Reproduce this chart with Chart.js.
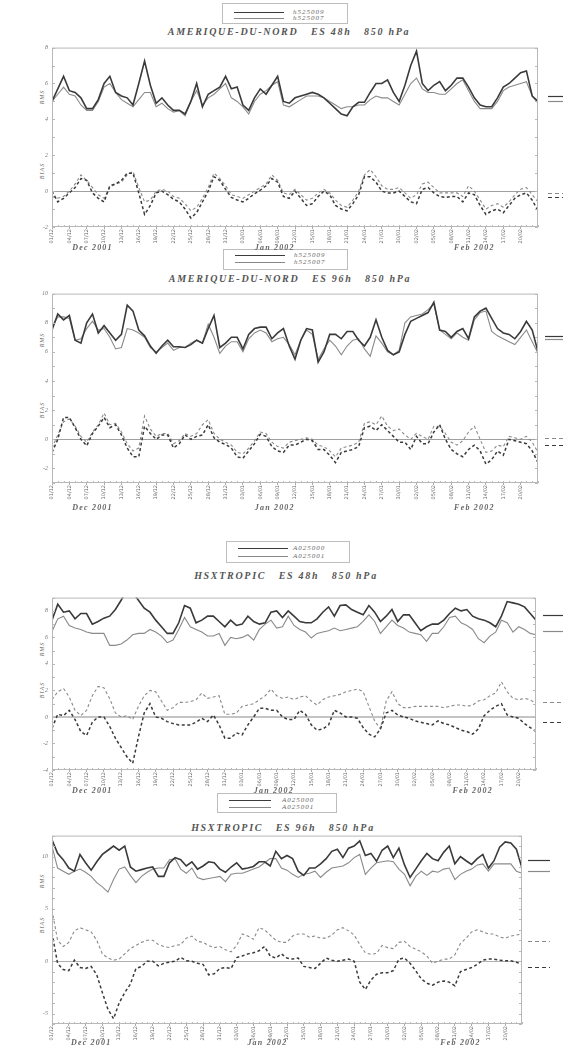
<!DOCTYPE html>
<html><head><meta charset="utf-8">
<script src="https://cdn.jsdelivr.net/npm/chart.js"></script>
<style>
html,body{margin:0;padding:0;background:#fff}
body{width:563px;height:1049px;position:relative;overflow:hidden;font-family:"Liberation Serif",serif}
canvas{position:absolute;left:0}
.t{position:absolute;transform:translate(-50%,-50%);font:italic bold 10px "Liberation Serif";letter-spacing:1.7px;color:#555;white-space:pre;line-height:10px}
.lg{position:absolute;border:1px solid #bdbdbd;box-sizing:border-box;background:transparent}
.lg .ln{position:absolute;height:0;border-top:1.4px solid #3c3c3c}
.lg .ln.l{border-top:1px solid #888}
.lg span{position:absolute;font:italic 7px "Liberation Serif";letter-spacing:1px;color:#666;line-height:7px;white-space:pre}
.ax{position:absolute;transform:translate(-50%,-50%) rotate(-90deg);font:italic 6px "Liberation Serif";letter-spacing:1px;color:#666;white-space:pre}
</style></head><body>

<div class="lg" style="left:222px;top:3px;width:126px;height:21px">
 <div class="ln" style="left:11px;top:8px;width:50px"></div><span style="left:70px;top:5px">h525009</span>
 <div class="ln l" style="left:11px;top:14px;width:50px"></div><span style="left:70px;top:11px">h525007</span>
</div>
<div class="t" style="left:289px;top:32px">AMERIQUE-DU-NORD   ES 48h   850 hPa</div>
<div class="ax" style="left:42px;top:97px">RMS</div>
<div class="ax" style="left:42px;top:171px">BIAS</div>

<div class="lg" style="left:223px;top:249px;width:125px;height:21px">
 <div class="ln" style="left:11px;top:5px;width:50px"></div><span style="left:70px;top:2px">h525009</span>
 <div class="ln l" style="left:11px;top:12px;width:50px"></div><span style="left:70px;top:9px">h525007</span>
</div>
<div class="t" style="left:290px;top:279px">AMERIQUE-DU-NORD   ES 96h   850 hPa</div>
<div class="ax" style="left:42px;top:340px">RMS</div>
<div class="ax" style="left:42px;top:410px">BIAS</div>

<div class="lg" style="left:226px;top:541px;width:124px;height:22px">
 <div class="ln" style="left:11px;top:6px;width:50px"></div><span style="left:66px;top:3px">A025000</span>
 <div class="ln l" style="left:11px;top:14px;width:50px"></div><span style="left:66px;top:11px">A025001</span>
</div>
<div class="t" style="left:286px;top:576px">HSXTROPIC   ES 48h   850 hPa</div>
<div class="ax" style="left:42px;top:649px">RMS</div>
<div class="ax" style="left:42px;top:690px">BIAS</div>

<div class="lg" style="left:217px;top:793px;width:120px;height:20px">
 <div class="ln" style="left:11px;top:6px;width:42px"></div><span style="left:64px;top:3px">A025000</span>
 <div class="ln l" style="left:11px;top:13px;width:42px"></div><span style="left:64px;top:10px">A025001</span>
</div>
<div class="t" style="left:283px;top:828px">HSXTROPIC   ES 96h   850 hPa</div>
<div class="ax" style="left:42px;top:881px">RMS</div>
<div class="ax" style="left:42px;top:925px">BIAS</div>

<script>
// ---------- categories / ticks ----------
const days = Array.from({length: 85}, (_, i) => i); // day index from 1 Dec 2001
const tickDays = [0,3,6,9,12,15,18,21,24,27,30,33,36,39,42,45,48,51,54,57,60,63,66,69,72,75,78,81];
const tickLabels = ["01/12","04/12","07/12","10/12","13/12","16/12","19/12","22/12","25/12","28/12",
  "31/12","03/01","06/01","09/01","12/01","15/01","18/01","21/01","24/01","27/01",
  "30/01","02/02","05/02","08/02","11/02","14/02","17/02","20/02"];
const monthLabels = ["Dec 2001","Jan 2002","Feb 2002"];
const monthDays = [7, 38.5, 73];

// ---------- panel 1 : AMERIQUE-DU-NORD ES 48h ----------
const p1Rms1 = [5.0,5.7,6.4,5.6,5.5,5.2,4.6,4.6,5.1,6.0, 6.4,5.5,5.3,5.2,4.8,6.0,7.25,5.9,4.9,5.2,
  4.8,4.5,4.5,4.3,5.0,6.0,4.7,5.4,5.6,5.8, 6.4,5.7,5.8,4.8,4.5,5.2,5.7,5.4,5.9,6.4,
  5.0,4.9,5.2,5.3,5.4,5.5,5.4,5.2,4.9,4.6, 4.3,4.2,4.7,4.95,4.95,5.5,6.0,6.0,6.2,5.5,
  5.0,5.9,7.0,7.8,6.0,5.6,5.9,6.1,5.6,5.9, 6.3,6.3,5.8,5.2,4.8,4.7,4.7,5.2,5.8,6.0, 6.3,6.6,6.7,5.3,5.0];
const p1Rms2 = [5.0,5.4,5.8,5.4,5.3,4.8,4.5,4.5,5.0,5.8, 6.0,5.5,5.1,4.9,4.7,5.1,5.5,5.5,4.7,4.9,
  4.6,4.4,4.5,4.2,5.0,5.6,4.8,5.2,5.4,5.7, 6.0,5.2,5.0,4.7,4.3,5.0,5.4,5.6,5.9,6.1,
  4.8,4.7,4.9,5.1,5.3,5.3,5.3,5.2,5.0,4.8, 4.6,4.7,4.7,4.8,4.8,5.1,5.3,5.2,5.2,5.0,
  4.8,5.4,6.0,6.3,5.7,5.5,5.5,5.4,5.4,5.7, 6.0,6.2,5.6,5.0,4.6,4.6,4.6,5.0,5.6,5.8, 5.9,6.0,6.1,5.3,4.9];
const p1Bias1 = [0.0,-0.6,-0.4,-0.1,0.2,0.7,0.6,-0.1,-0.4,-0.6, 0.3,0.4,0.6,1.0,1.0,-0.1,-1.3,-0.8,-0.1,0.0,
  -0.2,-0.45,-0.6,-1.0,-1.5,-1.2,-0.6,0.0,0.8,0.6, 0.1,-0.35,-0.5,-0.6,-0.4,-0.15,0.05,0.3,0.7,0.5,
  -0.3,-0.4,0.0,-0.4,-0.8,-0.7,-0.3,0.0,-0.2,-0.8, -1.0,-1.1,-0.7,-0.2,0.8,0.8,0.5,0.0,-0.1,-0.1,
  0.0,-0.3,-0.6,-0.7,0.1,0.2,-0.1,-0.3,-0.35,-0.3, -0.3,-0.6,-0.1,-0.2,-0.8,-1.3,-1.1,-1.0,-1.2,-0.8, -0.4,-0.2,-0.1,-0.5,-1.1];
const p1Bias2 = [-0.3,-0.4,-0.3,0.0,0.4,0.9,0.6,0.2,-0.2,-0.4, 0.2,0.4,0.5,0.9,1.1,0.2,-0.6,-0.5,0.0,0.1,
  0.0,-0.3,-0.4,-0.7,-1.1,-0.9,-0.4,0.2,1.0,0.7, 0.3,-0.2,-0.3,-0.4,-0.2,0.0,0.2,0.4,0.9,0.6,
  -0.1,-0.2,0.1,-0.2,-0.5,-0.4,-0.1,0.1,-0.1,-0.5, -0.8,-0.9,-0.5,0.0,0.9,1.2,0.8,0.3,0.1,0.1,
  0.2,-0.1,-0.4,-0.2,0.4,0.5,0.2,-0.1,-0.1,-0.1, -0.1,-0.3,0.3,0.0,-0.5,-1.0,-0.8,-0.7,-0.9,-0.6, -0.2,0.1,0.2,-0.2,-0.6];
const p1Means = [5.3, 5.0, -0.3, -0.1];
const p1YTicks = [-2,0,2,4,6,8];

// ---------- panel 2 : AMERIQUE-DU-NORD ES 96h ----------
const p2Rms1 = [7.5,8.6,8.2,8.5,6.8,6.6,8.0,8.6,7.3,7.8, 7.3,6.8,7.2,9.2,8.8,7.5,7.1,6.4,5.9,6.4,
  6.8,6.35,6.35,6.3,6.5,6.8,6.6,7.6,8.5,6.3, 6.6,7.0,7.0,6.2,7.2,7.6,7.7,7.7,6.9,7.3,
  7.6,6.4,5.5,6.8,7.6,7.5,5.3,6.0,7.2,7.2, 6.9,7.4,7.4,6.8,6.4,7.0,8.2,7.0,6.1,5.8,
  6.0,7.2,8.1,8.3,8.5,8.7,9.4,7.5,7.4,7.0, 7.4,7.6,6.9,8.4,8.8,9.0,8.3,7.6,7.3,7.2, 6.9,7.4,8.1,7.5,6.0];
const p2Rms2 = [7.7,8.4,8.4,8.3,6.8,6.9,7.6,8.1,7.5,7.6, 7.0,6.2,6.3,7.6,7.5,7.3,7.0,6.3,6.0,6.3,
  6.6,6.1,6.3,6.3,6.6,6.8,6.6,7.9,7.0,5.9, 6.4,6.7,6.7,6.0,6.9,7.3,7.5,7.3,6.7,6.9,
  7.0,6.5,5.8,6.8,7.5,7.2,5.5,6.2,6.8,6.4, 5.8,6.4,6.8,6.9,6.2,5.7,7.1,6.6,6.0,5.8,
  6.1,8.0,8.4,8.5,8.6,8.9,9.3,7.5,7.2,6.9, 7.3,7.0,6.8,8.2,8.7,8.8,7.4,7.1,6.9,6.7, 6.5,7.0,7.5,6.7,5.9];
const p2Bias1 = [-0.9,0.0,1.5,1.5,0.8,0.0,-0.45,0.4,0.9,1.5, 0.8,1.0,0.3,-0.6,-1.2,-1.2,0.9,0.4,0.0,0.3,
  0.3,-0.6,-0.3,0.3,0.0,0.2,0.3,1.0,0.1,-0.2, -0.35,-0.6,-1.2,-1.3,-0.8,-0.3,0.35,0.2,-0.5,-0.8,
  -0.9,-0.4,-0.4,-0.2,0.0,-0.1,-0.7,-0.7,-1.1,-1.6, -0.9,-0.8,-0.7,-0.5,0.8,0.9,0.6,1.0,0.6,0.2,
  -0.2,-0.2,-0.7,0.2,-0.3,-0.3,0.5,1.0,0.0,-0.7, -1.0,-1.2,-0.7,-0.4,-0.8,-1.7,-1.4,-0.8,-1.1,0.0, -0.1,-0.2,-0.3,-0.8,-1.6];
const p2Bias2 = [-0.6,0.3,1.2,1.4,0.9,0.2,-0.2,0.5,1.0,1.8, 1.0,1.1,0.5,-0.3,-0.8,-0.6,1.6,0.7,0.2,0.4,
  0.4,-0.3,-0.1,0.4,0.2,0.4,1.0,1.35,0.4,0.0, -0.2,-0.4,-0.9,-1.0,-0.6,-0.1,0.5,0.4,-0.2,-0.5,
  -0.6,-0.2,-0.1,0.0,0.1,0.0,-0.4,-0.5,-0.8,-1.2, -0.6,-0.5,-0.4,-0.2,1.1,1.2,1.0,1.6,0.9,0.6,
  0.7,0.3,0.0,0.4,0.2,0.0,0.9,0.9,0.4,-0.2, -0.4,-0.1,0.5,0.9,0.0,-0.9,-0.8,-0.4,-0.5,0.2, 0.1,0.0,0.2,-0.2,-0.9];
const p2Means = [7.1, 6.9, -0.4, 0.1];
const p2YTicks = [-2,0,2,4,6,8,10];

// ---------- panel 3 : HSXTROPIC ES 48h ----------
const p3Rms1 = [7.3,8.5,7.9,8.0,7.4,7.8,7.8,7.0,7.2,7.45, 7.6,8.1,8.8,9.6,9.4,8.8,8.2,7.9,7.3,6.8,
  6.3,6.3,7.1,8.4,8.2,7.1,7.3,7.6,7.6,7.2, 6.8,7.3,6.9,7.0,7.6,7.2,7.0,7.1,7.9,8.0,
  7.5,8.0,7.6,7.2,7.1,7.1,7.4,7.9,8.3,7.6, 8.4,8.45,8.1,7.9,7.7,8.4,7.9,7.2,7.6,8.1,
  7.2,7.7,7.7,7.1,6.5,6.8,7.0,7.0,7.3,7.8, 8.2,8.0,8.1,7.6,7.4,7.3,7.1,6.8,7.6,8.7, 8.6,8.5,8.3,7.8,7.3];
const p3Rms2 = [6.45,7.4,7.6,6.9,6.7,6.6,6.4,6.3,6.3,6.3, 5.4,5.4,5.5,5.8,6.2,6.3,6.3,6.6,6.4,6.1,
  5.6,5.8,6.6,7.5,6.8,6.6,6.4,6.1,6.1,6.3, 5.4,6.0,5.9,6.0,6.2,5.8,6.6,7.0,7.3,6.7,
  6.8,7.6,6.9,6.6,6.4,5.95,6.3,6.4,6.5,6.7, 6.5,6.6,6.7,6.8,7.2,7.7,7.2,6.3,6.8,7.3,
  6.9,6.7,6.4,6.3,6.2,5.7,6.3,6.3,6.8,7.5, 7.6,7.1,6.9,6.6,5.9,5.6,6.1,6.4,7.3,7.1, 6.4,6.8,6.6,6.3,6.2];
const p3Bias1 = [-0.85,0.2,0.1,0.5,-0.2,-1.1,-1.4,-0.4,0.0,0.0, -0.7,-1.6,-2.3,-3.0,-3.5,-1.5,0.3,1.0,0.0,-0.1,
  -0.35,-0.5,-0.6,-0.6,-0.6,-0.4,-0.1,-0.35,0.15,-0.6, -1.6,-1.6,-1.2,-1.35,-0.6,0.0,0.65,0.65,0.5,0.5,
  0.0,-0.2,-0.2,0.5,0.2,-0.6,-1.0,-0.9,-0.6,0.5, 0.3,0.0,0.0,-0.1,-0.8,-1.3,-1.5,-0.9,0.3,0.5,
  0.15,0.0,-0.1,-0.3,-0.4,-0.5,-0.6,-0.3,-0.5,-0.6, -0.8,-1.0,-1.1,-1.3,-0.9,0.1,0.5,0.8,1.0,0.15, 0.0,-0.1,-0.5,-0.8,-1.1];
const p3Bias2 = [1.3,1.9,2.15,1.5,0.5,0.1,0.5,1.6,2.3,2.2, 1.4,0.3,0.0,0.1,-0.2,0.8,1.6,2.0,1.9,1.2,
  0.5,0.7,1.1,1.1,1.15,1.3,1.8,1.4,1.5,1.6, 0.2,0.2,0.3,0.8,0.9,1.0,1.3,1.6,2.1,1.6,
  1.4,1.5,1.3,1.5,1.6,1.2,0.9,1.3,1.5,1.6, 1.7,1.9,2.0,2.1,1.9,0.8,-0.3,-0.9,1.2,1.9,
  1.0,0.7,0.7,0.8,0.8,0.8,0.8,0.8,0.7,0.8, 0.9,0.9,0.8,0.9,1.2,1.3,1.6,1.8,2.65,1.9, 1.4,1.3,1.4,1.3,1.0];
const p3Means = [7.7, 6.5, -0.4, 1.1];
const p3YTicks = [-4,-2,0,2,4,6,8];

// ---------- panel 4 : HSXTROPIC ES 96h ----------
const p4Rms1 = [11.6,10.3,9.7,8.9,8.6,10.2,9.4,8.7,9.5,10.2, 10.6,11.0,10.6,11.0,9.0,8.6,8.75,8.9,9.0,8.1,
  8.1,9.4,9.9,9.7,9.1,9.5,8.8,9.1,9.5,9.4, 8.8,8.5,9.0,9.4,8.8,8.9,9.05,9.5,9.5,9.1,
  10.5,9.8,10.1,9.8,8.6,8.2,8.9,8.9,9.3,9.8, 10.5,10.7,9.9,10.8,11.0,11.5,10.1,10.3,9.55,10.6,
  11.0,9.9,10.8,9.2,8.0,8.8,9.6,10.3,9.8,9.6, 10.4,11.0,9.3,10.0,9.6,9.25,9.8,10.2,8.9,9.6, 10.9,11.4,11.3,10.7,8.9];
const p4Rms2 = [11.0,8.9,8.6,8.3,8.6,8.8,8.5,8.1,7.5,7.1, 6.6,7.8,8.8,9.0,8.2,7.5,8.1,8.5,8.8,8.9,
  8.9,9.7,9.8,8.8,8.4,8.9,8.0,7.8,7.9,8.0, 8.1,7.6,8.3,8.4,8.4,8.6,8.8,9.0,9.4,9.8,
  9.8,8.9,8.7,8.3,8.0,8.3,8.4,8.6,8.0,8.5, 8.9,9.0,9.1,9.4,9.9,10.2,8.3,8.9,9.4,9.5,
  9.6,9.5,8.8,8.3,7.2,8.1,8.6,8.2,8.6,8.5, 8.8,8.9,7.8,8.3,8.6,8.8,9.2,9.3,8.6,9.3, 9.3,9.3,9.3,8.6,8.4];
const p4Bias1 = [2.7,-0.2,-0.8,-0.9,0.1,-0.6,-0.7,-0.5,-1.3,-3.0, -4.6,-5.5,-4.0,-3.0,-2.2,-0.7,-0.5,0.0,0.0,-0.45,
  -0.2,-0.1,0.0,0.35,0.05,0.0,-0.2,-0.3,-1.3,-1.2, -0.7,-0.6,-0.7,0.35,0.5,0.7,0.8,1.0,1.4,0.5,
  0.3,0.7,0.3,0.2,0.3,-0.5,-0.6,-0.7,-0.2,0.3, 0.1,0.0,0.1,0.2,0.0,-2.0,-2.7,-1.8,-1.25,-1.1,
  -1.1,-0.9,0.2,0.3,-0.2,-0.9,-1.7,-2.1,-2.3,-2.0, -1.9,-2.0,-2.35,-1.0,-0.8,-0.6,-0.3,0.1,0.2,0.2, 0.1,0.05,0.05,-0.1,-0.3];
const p4Bias2 = [4.9,2.0,1.4,1.8,2.9,3.2,3.0,2.8,2.0,0.7, 0.3,0.1,0.2,0.7,1.2,1.5,1.8,2.0,2.0,1.6,
  1.4,1.3,1.5,1.6,2.2,2.4,1.9,1.8,1.5,1.3, 1.4,1.1,0.9,1.5,2.6,2.4,2.1,3.2,3.0,2.5,
  2.0,1.8,1.8,2.4,2.6,2.6,2.3,2.4,2.2,2.2, 2.5,3.0,3.2,2.9,2.5,1.6,0.8,0.65,0.75,1.5,
  1.3,1.2,1.8,1.9,1.4,1.15,0.9,0.5,-0.2,0.0, 0.2,0.2,0.6,1.7,2.2,2.8,3.0,2.8,2.6,2.6, 2.3,2.2,2.4,2.5,2.6];
const p4Means = [9.7, 8.6, -0.6, 1.9];
const p4YTicks = [-5,0,5,10];

// ---------- drawing ----------
const DARK = '#3a3a3a', LIGHT = '#8a8a8a';

const framePlugin = {
  id: 'frame',
  afterDraw(chart, args, o) {
    const {ctx, chartArea: a, scales: {x, y}} = chart;
    ctx.save();
    ctx.strokeStyle = '#b8b8b8'; ctx.lineWidth = 1;
    ctx.strokeRect(a.left + 0.5, a.top + 0.5, a.right - a.left - 1, a.bottom - a.top - 1);
    ctx.beginPath();
    for (let v = Math.ceil(y.min); v <= y.max; v += 1) {
      const py = Math.round(y.getPixelForValue(v)) + 0.5;
      ctx.moveTo(a.left, py); ctx.lineTo(a.left + 3, py);
      ctx.moveTo(a.right - 3, py); ctx.lineTo(a.right, py);
    }
    days.forEach(d => {
      const px = Math.round(x.getPixelForValue(d)) + 0.5;
      ctx.moveTo(px, a.bottom); ctx.lineTo(px, a.bottom - 2);
    });
    ctx.stroke();
    o.means.forEach((m, i) => {
      const py = Math.round(y.getPixelForValue(m)) + 0.5;
      ctx.beginPath();
      ctx.setLineDash(i >= 2 ? [4, 3] : []);
      ctx.strokeStyle = i % 2 ? LIGHT : DARK;
      ctx.lineWidth = 1.2;
      ctx.moveTo(a.right + o.mStart, py); ctx.lineTo(a.right + o.mEnd, py);
      ctx.stroke();
    });
    ctx.setLineDash([]);
    ctx.fillStyle = '#666';
    ctx.font = 'italic bold 8px "Liberation Serif"';
    ctx.textAlign = 'center'; ctx.textBaseline = 'middle';
    ctx.letterSpacing = '1.2px';
    monthLabels.forEach((t, i) => ctx.fillText(t, x.getPixelForValue(monthDays[i]), a.bottom + o.monthOff));
    ctx.restore();
  }
};

function ds(vals, color, width, dash) {
  return {data: vals.map((v, i) => ({x: days[i], y: v})), borderColor: color, borderWidth: width,
    borderDash: dash, pointRadius: 0, fill: false, tension: 0};
}

function makePanel(p) {
  const c = document.createElement('canvas');
  c.width = 563; c.height = p.height;
  c.style.top = p.top + 'px'; c.style.width = '563px'; c.style.height = p.height + 'px';
  document.body.appendChild(c);
  new Chart(c, {
    type: 'line',
    data: {datasets: [
      ds(p.rms1, DARK, 1.6, []),
      ds(p.rms2, LIGHT, 1.1, []),
      ds(p.bias1, DARK, 1.5, [3, 2.5]),
      ds(p.bias2, LIGHT, 1.1, [3, 2.5])
    ]},
    options: {
      responsive: false, animation: false, devicePixelRatio: 1,
      layout: {padding: {top: 7, left: 0, bottom: 0, right: 563 - p.right}},
      plugins: {legend: {display: false}, tooltip: {enabled: false},
        frame: {means: p.means, mStart: p.mStart, mEnd: p.mEnd, monthOff: p.monthOff}},
      scales: {
        x: {type: 'linear', min: 0, max: 84,
          afterBuildTicks: s => { s.ticks = tickDays.map(v => ({value: v})); },
          afterFit: s => { s.height = p.xH; },
          ticks: {autoSkip: false, maxRotation: 90, minRotation: 90, padding: 0,
            font: {size: 5, family: 'DejaVu Sans'}, color: '#6a6a6a',
            callback: (v, i) => tickLabels[i]},
          grid: {drawOnChartArea: false, tickLength: 2, color: '#aaa'},
          border: {display: false}},
        y: {min: p.yMin, max: p.yMax,
          afterBuildTicks: s => { s.ticks = p.yTicks.map(v => ({value: v})); },
          afterFit: s => { s.width = 52; },
          ticks: {padding: 4, font: {size: 6, style: 'italic', family: 'Liberation Serif'}, color: '#777'},
          grid: {drawTicks: false, lineWidth: p.zeroW,
            color: ctx => (ctx.tick && ctx.tick.value === 0) ? p.zeroC : 'rgba(0,0,0,0)'},
          border: {display: false}}
      }
    },
    plugins: [framePlugin]
  });
}

makePanel({top: 40, height: 230, xH: 43, right: 538, yMin: -2, yMax: 8, yTicks: p1YTicks,
  rms1: p1Rms1, rms2: p1Rms2, bias1: p1Bias1, bias2: p1Bias2, means: p1Means,
  mStart: 10, mEnd: 25, monthOff: 21, zeroC: '#a0a0a0', zeroW: 1});
makePanel({top: 286, height: 240, xH: 43, right: 538, yMin: -3, yMax: 10, yTicks: p2YTicks,
  rms1: p2Rms1, rms2: p2Rms2, bias1: p2Bias1, bias2: p2Bias2, means: p2Means,
  mStart: 7, mEnd: 25, monthOff: 25, zeroC: '#a0a0a0', zeroW: 1});
makePanel({top: 590, height: 215, xH: 35, right: 536, yMin: -4, yMax: 9, yTicks: p3YTicks,
  rms1: p3Rms1, rms2: p3Rms2, bias1: p3Bias1, bias2: p3Bias2, means: p3Means,
  mStart: 7, mEnd: 27, monthOff: 21, zeroC: '#c4c4c4', zeroW: 2});
makePanel({top: 828, height: 221, xH: 25, right: 522, yMin: -6, yMax: 12, yTicks: p4YTicks,
  rms1: p4Rms1, rms2: p4Rms2, bias1: p4Bias1, bias2: p4Bias2, means: p4Means,
  mStart: 6, mEnd: 28, monthOff: 19, zeroC: '#b0b0b0', zeroW: 1});
</script>
</body></html>
